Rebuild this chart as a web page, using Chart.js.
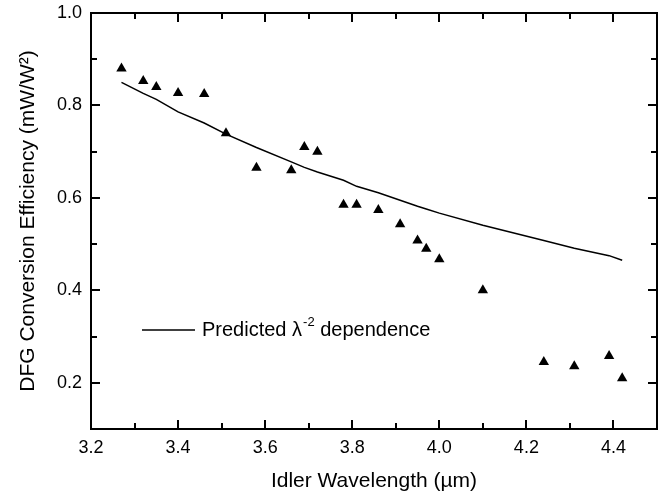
<!DOCTYPE html>
<html>
<head>
<meta charset="utf-8">
<script src="https://cdn.jsdelivr.net/npm/chart.js@4.4.1/dist/chart.umd.min.js"></script>
<style>
  html, body { margin: 0; padding: 0; background: #fff; }
  #wrap { width: 666px; height: 494px; }
</style>
</head>
<body>
<div id="wrap"><canvas id="dfgChart"></canvas></div>
<script>
// measured points (idler wavelength in um, efficiency in mW/W^2)
const measWavelength = [3.27, 3.32, 3.35, 3.40, 3.46, 3.51, 3.58, 3.66, 3.69, 3.72, 3.78,
                        3.81, 3.86, 3.91, 3.95, 3.97, 4.00, 4.10, 4.24, 4.31, 4.39, 4.42];
const measEfficiency = [0.880, 0.853, 0.840, 0.827, 0.825, 0.740, 0.665, 0.660, 0.710, 0.700, 0.585,
                        0.585, 0.574, 0.543, 0.508, 0.490, 0.467, 0.400, 0.245, 0.236, 0.258, 0.210];

// predicted curve
const predWavelength = [3.27, 3.32, 3.35, 3.40, 3.46, 3.51, 3.58, 3.66, 3.69, 3.72, 3.78,
                        3.81, 3.86, 3.91, 3.95, 3.97, 4.00, 4.10, 4.24, 4.31, 4.39, 4.42];
const predEfficiency = [0.850, 0.826, 0.813, 0.786, 0.762, 0.738, 0.709, 0.678, 0.666, 0.656, 0.638,
                        0.625, 0.611, 0.595, 0.582, 0.576, 0.567, 0.541, 0.508, 0.491, 0.475, 0.465];

const xTickValues = [3.2, 3.4, 3.6, 3.8, 4.0, 4.2, 4.4];
const xMinorValues = [3.3, 3.5, 3.7, 3.9, 4.1, 4.3, 4.5];
const yTickValues = [0.2, 0.4, 0.6, 0.8, 1.0];
const yMinorValues = [0.1, 0.3, 0.5, 0.7, 0.9];

const FONT = '"Liberation Sans", Arial, Helvetica, sans-serif';

function toPoints(xs, ys) {
    return xs.map((x, i) => ({ x: x, y: ys[i] }));
}

// frame, inward tick marks on all four sides, and the legend entry
const decorations = {
    id: 'decorations',
    afterDraw(chart) {
        const c = chart.ctx;
        const a = chart.chartArea;
        const sx = chart.scales.x, sy = chart.scales.y;
        const L = Math.round(a.left), R = Math.round(a.right);
        const T = Math.round(a.top), B = Math.round(a.bottom);
        c.save();
        c.strokeStyle = '#000';
        c.lineWidth = 2;
        c.lineCap = 'square';
        c.beginPath();
        c.moveTo(L, T); c.lineTo(R, T); c.lineTo(R, B); c.lineTo(L, B); c.closePath();
        const xTick = (vals, len) => vals.forEach(v => {
            const px = Math.round(sx.getPixelForValue(v));
            c.moveTo(px, B); c.lineTo(px, B - len);
            c.moveTo(px, T); c.lineTo(px, T + len);
        });
        const yTick = (vals, len) => vals.forEach(v => {
            const py = Math.round(sy.getPixelForValue(v));
            c.moveTo(L, py); c.lineTo(L + len, py);
            c.moveTo(R, py); c.lineTo(R - len, py);
        });
        xTick(xTickValues, 8); xTick(xMinorValues, 5);
        yTick(yTickValues, 8); yTick(yMinorValues, 5);
        c.stroke();

        // legend
        const ly = 330;
        c.fillStyle = '#000';
        c.lineWidth = 1.5;
        c.lineCap = 'butt';
        c.beginPath(); c.moveTo(L + 51, ly); c.lineTo(L + 104, ly); c.stroke();
        c.textBaseline = 'middle';
        let tx = L + 111;
        c.font = '20px ' + FONT;
        c.fillText('Predicted \u03bb', tx, ly);
        tx += c.measureText('Predicted \u03bb').width + 1;
        c.font = '13px ' + FONT;
        c.fillText('-2', tx, ly - 8);
        tx += c.measureText('-2').width;
        c.font = '20px ' + FONT;
        c.fillText(' dependence', tx, ly);
        c.restore();
    }
};

const ctx = document.getElementById('dfgChart').getContext('2d');
const dfgChart = new Chart(ctx, {
    type: 'scatter',
    data: {
        datasets: [
            {
                label: 'Predicted',
                data: toPoints(predWavelength, predEfficiency),
                showLine: true,
                borderColor: '#000',
                borderWidth: 1.5,
                pointRadius: 0,
                tension: 0
            },
            {
                label: 'Measured',
                data: toPoints(measWavelength, measEfficiency),
                pointStyle: 'triangle',
                pointRadius: 6,
                backgroundColor: '#000',
                borderColor: '#000',
                borderWidth: 0
            }
        ]
    },
    plugins: [decorations],
    options: {
        responsive: true,
        maintainAspectRatio: false,
        animation: false,
        layout: { padding: { top: 13, right: 9, left: 0, bottom: 0 } },
        plugins: {
            legend: { display: false },
            tooltip: { enabled: false }
        },
        scales: {
            x: {
                type: 'linear',
                min: 3.2,
                max: 4.5,
                afterBuildTicks: scale => { scale.ticks = xTickValues.map(v => ({ value: v })); },
                afterFit: scale => { scale.height = 65; scale.paddingRight = 0; scale.paddingLeft = 0; },
                grid: { display: false, drawTicks: false },
                border: { display: false },
                ticks: {
                    padding: 8,
                    color: '#000',
                    font: { family: FONT, size: 18 },
                    callback: v => Number(v).toFixed(1)
                },
                title: {
                    display: true,
                    text: 'Idler Wavelength (\u00b5m)',
                    color: '#000',
                    font: { family: FONT, size: 21 },
                    padding: { top: 3, bottom: 0 }
                }
            },
            y: {
                type: 'linear',
                min: 0.1,
                max: 1.0,
                afterBuildTicks: scale => { scale.ticks = yTickValues.map(v => ({ value: v })); },
                afterFit: scale => { scale.width = 91; scale.paddingTop = 0; scale.paddingBottom = 0; },
                grid: { display: false, drawTicks: false },
                border: { display: false },
                ticks: {
                    padding: 9,
                    color: '#000',
                    font: { family: FONT, size: 18 },
                    callback: v => Number(v).toFixed(1)
                },
                title: {
                    display: true,
                    text: 'DFG Conversion Efficiency (mW/W\u00b2)',
                    color: '#000',
                    font: { family: FONT, size: 21 },
                    padding: { top: 16, bottom: 0 }
                }
            }
        }
    }
});
</script>
</body>
</html>
